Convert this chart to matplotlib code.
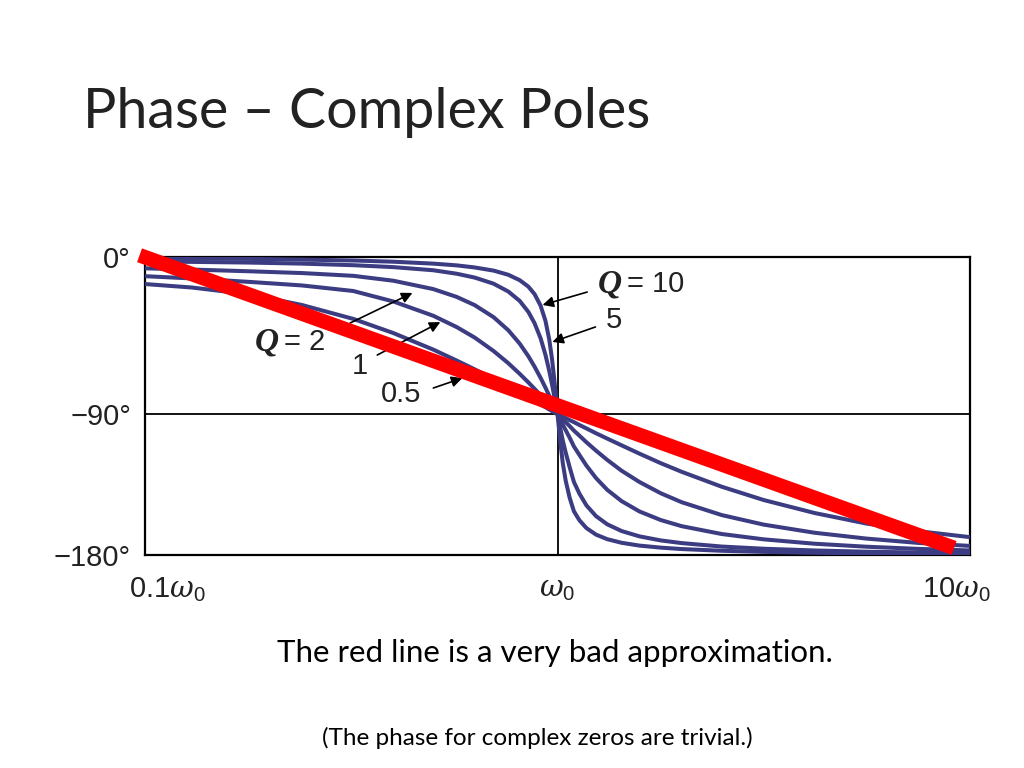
import numpy as np
import matplotlib
matplotlib.use("Agg")
import matplotlib.pyplot as plt

plt.rcParams['mathtext.fontset'] = 'custom'
plt.rcParams['mathtext.rm'] = 'Liberation Sans'
plt.rcParams['mathtext.it'] = 'DejaVu Serif:italic'
plt.rcParams['font.family'] = ['Liberation Sans', 'DejaVu Sans']

# ---- data ----
omega = [0.1, 0.13, 0.18, 0.24, 0.32, 0.4, 0.5, 0.57, 0.63, 0.7, 0.76, 0.81, 0.85, 0.88,
         0.91, 0.935, 0.955, 0.97, 0.982, 0.992, 1.0, 1.008, 1.018, 1.03, 1.047, 1.07,
         1.096, 1.13, 1.175, 1.24, 1.32, 1.43, 1.58, 1.78, 2.0, 2.5, 3.16, 4.2, 5.6, 7.5, 10.0]
q_values = [10, 5, 2, 1, 0.5]
phase_q10 = [-0.4, -0.8, -1.1, -1.5, -2.0, -2.7, -3.8, -4.8, -6.0, -7.8, -10.2, -13.3, -17.0, -21.3,
             -27.9, -36.6, -47.3, -58.6, -70.0, -80.9, -90.0, -99.1, -110.0, -121.4, -132.7, -143.4,
             -152.1, -157.8, -162.8, -167.0, -169.9, -172.2, -174.0, -175.3, -176.2, -177.3, -178.0,
             -178.6, -178.9, -179.2, -179.4]
phase_q5 = [-2.6, -2.8, -3.2, -3.8, -4.7, -5.8, -7.6, -9.6, -11.8, -15.3, -19.8, -25.2, -31.5, -38.0,
            -46.6, -56.1, -65.3, -73.1, -79.7, -85.4, -90.0, -94.6, -100.3, -106.9, -114.7, -123.9,
            -133.4, -140.8, -148.3, -155.2, -160.4, -164.7, -168.1, -170.7, -172.4, -174.6, -176.0,
            -177.1, -177.9, -178.4, -178.8]
phase_q2 = [-6.5, -7.2, -8.2, -9.2, -10.8, -13.6, -18.4, -22.9, -27.6, -34.5, -42.0, -49.7, -56.9, -62.9,
            -69.3, -74.9, -79.6, -83.1, -85.8, -88.2, -90.0, -91.8, -94.2, -96.9, -100.4, -105.1,
            -110.7, -116.1, -122.9, -130.9, -138.4, -145.6, -152.2, -157.7, -161.6, -166.6, -170.0,
            -172.8, -174.7, -176.1, -177.1]
phase_q1 = [-11.0, -12.3, -14.3, -16.3, -19.5, -25.5, -33.7, -40.2, -46.2, -53.9, -60.9, -67.0, -71.9, -75.6,
            -79.3, -82.3, -84.7, -86.5, -87.9, -89.1, -90.0, -90.9, -92.1, -93.5, -95.3, -97.7,
            -100.6, -103.8, -108.0, -113.4, -119.3, -126.2, -133.4, -140.6, -146.3, -154.5, -160.6,
            -165.8, -169.5, -172.3, -174.2]
phase_q05 = [-15.5, -17.5, -21.5, -27.5, -35.5, -43.6, -53.1, -59.4, -64.4, -70.0, -74.5, -78.0, -80.7, -82.7,
             -84.6, -86.1, -87.4, -88.3, -89.0, -89.5, -90.0, -90.5, -91.0, -91.7, -92.6, -93.9,
             -95.2, -97.0, -99.2, -102.3, -105.7, -110.0, -115.3, -121.4, -126.9, -136.4, -144.9,
             -153.2, -159.9, -164.8, -168.6]
curves = [phase_q10, phase_q5, phase_q2, phase_q1, phase_q05]

red_omega = [0.097, 9.15]
red_phase = [1.0, -175.5]

ytick_vals = [0, -90, -180]
ytick_labels = ['0°', '\u221290°', '\u2212180°']

# ---- figure ----
fig = plt.figure(figsize=(10.24, 7.68), dpi=100)
fig.patch.set_facecolor('white')
ax = fig.add_axes([145/1024, 1-555/768, (970-145)/1024, (555-257)/768])


def fwd(d):
    d = np.asarray(d, dtype=float)
    return np.where(d >= -90, d * 157.0 / 90.0, -157.0 + (d + 90.0) * 141.0 / 90.0)


def inv(p):
    p = np.asarray(p, dtype=float)
    return np.where(p >= -157.0, p * 90.0 / 157.0, -90.0 + (p + 157.0) * 90.0 / 141.0)


ax.set_xscale('log')
ax.set_yscale('function', functions=(fwd, inv))
ax.set_xlim(0.1, 10)
ax.set_ylim(-180, 0)

curve_color = '#3c3c82'
for ph in curves:
    ax.plot(omega, ph, color=curve_color, lw=2.9, solid_capstyle='butt',
            solid_joinstyle='round', zorder=3)

ax.axvline(1.0, color='black', lw=1.3, zorder=2)
ax.axhline(-90, color='black', lw=1.3, zorder=2)

for s in ax.spines.values():
    s.set_linewidth(1.6)
    s.set_color('black')

ax.set_yticks(ytick_vals)
ax.set_yticklabels(ytick_labels, fontsize=21, color='#222222')
ax.set_xticks([])
ax.xaxis.set_minor_locator(matplotlib.ticker.NullLocator())
ax.yaxis.set_minor_locator(matplotlib.ticker.NullLocator())
ax.tick_params(axis='y', length=0, pad=10)
ax.tick_params(axis='x', which='both', length=0)

# x labels
xl_kw = dict(transform=ax.get_xaxis_transform(), fontsize=21, color='#222222',
             ha='center', va='center')
ax.text(0.113, -0.115, r'0.1$\omega_\mathregular{0}$', **xl_kw)
ax.text(1.0, -0.115, r'$\omega_\mathregular{0}$', **xl_kw)
ax.text(9.29, -0.115, r'10$\omega_\mathregular{0}$', **xl_kw)

# red approximation line
ax.plot(red_omega, red_phase, color='#ff0000', lw=10.5, solid_capstyle='butt',
        zorder=10, clip_on=False)

# annotations
akw = dict(arrowstyle='-|>', color='black', lw=1.2, mutation_scale=16, shrinkA=0, shrinkB=0)
lab_kw = dict(fontsize=21, color='#222222', va='center', ha='left')
q_kw = dict(fontsize=24, family='Liberation Serif', style='italic', weight='bold',
            color='#222222', va='center', ha='left')

ax.annotate('', xy=(0.920, -27.5), xytext=(1.18, -20.1), arrowprops=akw, zorder=5)
ax.annotate('', xy=(0.972, -48.7), xytext=(1.236, -40.1), arrowprops=akw, zorder=5)
ax.annotate('', xy=(0.445, -20.6), xytext=(0.3145, -37.8), arrowprops=akw, zorder=5)
ax.annotate('', xy=(0.520, -37.3), xytext=(0.3656, -56.2), arrowprops=akw, zorder=5)
ax.annotate('', xy=(0.588, -69.4), xytext=(0.500, -75.1), arrowprops=akw, zorder=5)

ax.text(1.25, -15.5, 'Q', **q_kw)
ax.annotate('= 10', xy=(1.25, -15.5), xytext=(21, 0), textcoords='offset points', **lab_kw)
ax.text(1.367, -36.1, '5', fontsize=21, color='#222222', va='center', ha='center')
ax.text(0.185, -49.0, 'Q', **q_kw)
ax.annotate('= 2', xy=(0.185, -49.0), xytext=(21, 0), textcoords='offset points', **lab_kw)
ax.text(0.3325, -62.5, '1', fontsize=21, color='#222222', va='center', ha='center')
ax.text(0.418, -78.5, '0.5', fontsize=21, color='#222222', va='center', ha='center')

# slide texts
fig.text(83/1024, 1-113/768, 'Phase \u2013 Complex Poles', fontsize=40, family='Lato',
         color='#222222', ha='left', va='center')
fig.text(555/1024, 1-653/768, 'The red line is a very bad approximation.', fontsize=22.5,
         family='Lato', color='black', ha='center', va='center')
fig.text(537/1024, 1-738/768, '(The phase for complex zeros are trivial.)', fontsize=17.5,
         family='Lato', color='black', ha='center', va='center')

fig.savefig('out.png', dpi=100, facecolor='white')
